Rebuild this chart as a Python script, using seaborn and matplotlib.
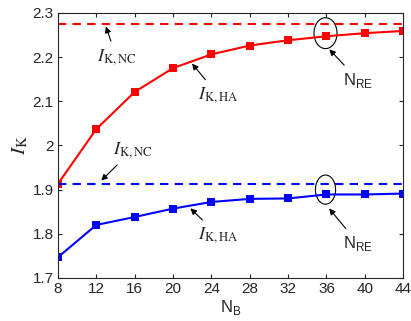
import matplotlib.pyplot as plt
import matplotlib.patches as mpatches
import seaborn as sns
import pandas as pd

nb = [8, 12, 16, 20, 24, 28, 32, 36, 40, 44]
red_ha = [1.913, 2.037, 2.121, 2.175, 2.206, 2.226, 2.238, 2.247, 2.254, 2.259]
blue_ha = [1.747, 1.820, 1.838, 1.857, 1.872, 1.879, 1.880, 1.889, 1.889, 1.891]
red_nc = 2.275
blue_nc = 1.913
y_ticks = [1.7, 1.8, 1.9, 2.0, 2.1, 2.2, 2.3]

sns.set_style("ticks")
plt.rcParams["font.family"] = ["Liberation Sans", "DejaVu Sans"]
plt.rcParams["xtick.direction"] = "in"
plt.rcParams["ytick.direction"] = "in"

fig = plt.figure(figsize=(4.11, 3.21), dpi=100)
ax = fig.add_axes([0.141, 0.134, 0.84, 0.826])

df = pd.DataFrame({"nb": nb * 2, "ik": red_ha + blue_ha,
                   "case": ["red"] * len(nb) + ["blue"] * len(nb)})
sns.lineplot(data=df, x="nb", y="ik", hue="case",
             palette={"red": "#ff0000", "blue": "#0000ff"},
             marker="s", markersize=6, markeredgewidth=0, linewidth=1.5,
             legend=False, ax=ax)
ax.axhline(red_nc, color="#ff0000", ls="--", lw=1.5, dashes=(4, 3))
ax.axhline(blue_nc, color="#0000ff", ls="--", lw=1.5, dashes=(4, 3))

ax.set_xlim(8, 44)
ax.set_ylim(1.7, 2.3)
ax.set_xticks(nb)
ax.set_yticks(y_ticks)
ax.set_yticklabels(["%g" % v for v in y_ticks])
ax.tick_params(labelsize=11, length=3, width=0.8, top=True, right=True, pad=3)
for s in ax.spines.values():
    s.set_linewidth(0.8)

ax.set_xlabel("N$_\\mathregular{B}$", fontsize=12, labelpad=1)
ax.set_ylabel("$I_\\mathrm{K}$", fontsize=15, math_fontfamily="stix", labelpad=2)

arrow = dict(arrowstyle="-|>", color="black", lw=0.8, mutation_scale=9)
tkw = dict(fontsize=13, math_fontfamily="stix", ha="center", va="center")
ax.annotate("$I_\\mathrm{K,NC}$", xy=(12.9, 2.275), xytext=(14.1, 2.2),
            arrowprops=arrow, **tkw)
ax.annotate("$I_\\mathrm{K,HA}$", xy=(21.8, 2.19), xytext=(24.7, 2.114),
            arrowprops=arrow, **tkw)
ax.annotate("$I_\\mathrm{K,NC}$", xy=(12.3, 1.916), xytext=(15.8, 1.99),
            arrowprops=arrow, **tkw)
ax.annotate("$I_\\mathrm{K,HA}$", xy=(21.6, 1.862), xytext=(24.7, 1.797),
            arrowprops=arrow, **tkw)
ax.annotate("N$_\\mathregular{RE}$", xy=(36.1, 2.222), xytext=(39.3, 2.148),
            arrowprops=arrow, fontsize=12, ha="center", va="center")
ax.annotate("N$_\\mathregular{RE}$", xy=(36.1, 1.862), xytext=(39.3, 1.778),
            arrowprops=arrow, fontsize=12, ha="center", va="center")

ax.add_patch(mpatches.Ellipse((35.9, 2.254), 2.4, 0.07, fill=False, lw=0.8, color="black"))
ax.add_patch(mpatches.Ellipse((35.9, 1.900), 2.1, 0.066, fill=False, lw=0.8, color="black"))

fig.savefig("out.png", dpi=100)
